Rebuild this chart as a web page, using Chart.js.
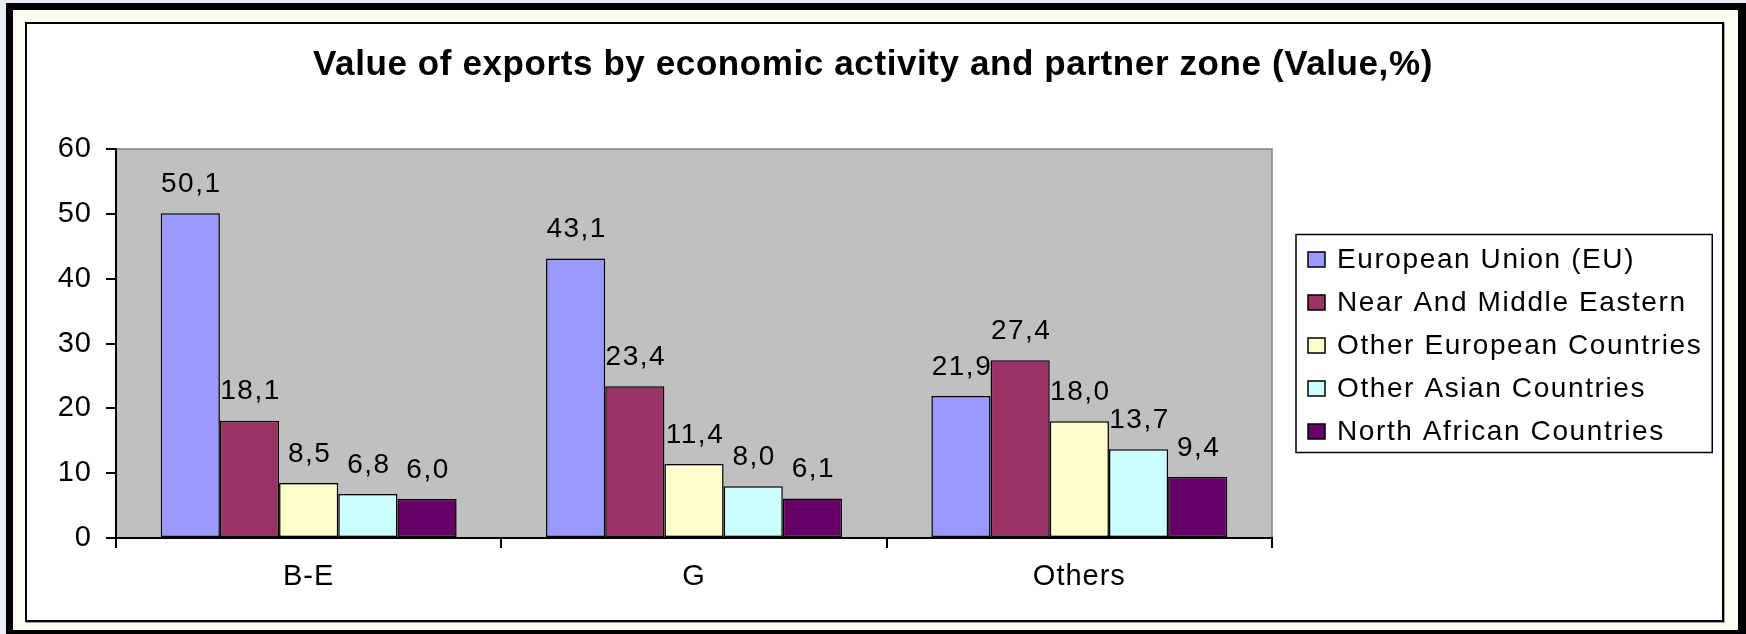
<!DOCTYPE html>
<html>
<head>
<meta charset="utf-8">
<title>Value of exports by economic activity and partner zone</title>
<script src="https://cdn.jsdelivr.net/npm/chart.js@4.4.1/dist/chart.umd.min.js"></script>
<style>
  html, body { margin: 0; padding: 0; }
  body { width: 1746px; height: 634px; background: #e9edf3; position: relative; overflow: hidden; }
  .outer {
    position: absolute; left: 6px; top: 3px; width: 1740px; height: 631px; box-sizing: border-box;
    background: #fffff3; border-style: solid; border-color: #000; border-width: 7px 8px 4px 7px;
  }
  .inner {
    position: absolute; left: 25px; top: 22px; width: 1699px; height: 600px; box-sizing: border-box;
    background: #fff; border: 2px solid #000; box-shadow: 1px 1px 0 #a0a0a0;
  }
  #myChart { position: absolute; left: 0; top: 0; width: 1746px; height: 634px; }
</style>
</head>
<body>
<div class="outer"></div>
<div class="inner"></div>
<canvas id="myChart" width="1746" height="634"></canvas>
<script>
const titleText = 'Value of exports by economic activity and partner zone (Value,%)'
const categories = ['B-E', 'G', 'Others']
const zoneNames = ['European Union (EU)', 'Near And Middle Eastern', 'Other European Countries', 'Other Asian Countries', 'North African Countries']
const euValues = [50.1, 43.1, 21.9]
const nearMiddleEastValues = [18.1, 23.4, 27.4]
const otherEuropeValues = [8.5, 11.4, 18.0]
const otherAsiaValues = [6.8, 8.0, 13.7]
const northAfricaValues = [6.0, 6.1, 9.4]
const yTicks = [0, 10, 20, 30, 40, 50, 60]
const zoneColors = ['#9999ff', '#993366', '#ffffcc', '#ccffff', '#660066']

const FONT = "'Liberation Sans', Arial, sans-serif"
const seriesValues = [euValues, nearMiddleEastValues, otherEuropeValues, otherAsiaValues, northAfricaValues]

// excel draws its text a bit wide, so spread the letters
const wideText = {
	id: 'wideText',
	beforeUpdate(chart) { chart.ctx.letterSpacing = '1px' },
	beforeLayout(chart) { chart.ctx.letterSpacing = '1px' },
	beforeDraw(chart) { chart.ctx.letterSpacing = '1px' }
}

// grey plot area + title
const plotFrame = {
	id: 'plotFrame',
	beforeDraw(chart) {
		const ctx = chart.ctx
		const a = chart.chartArea
		ctx.save()
		ctx.fillStyle = '#c0c0c0'
		ctx.fillRect(a.left, a.top, a.right - a.left, a.bottom - a.top)
		ctx.strokeStyle = '#808080'
		ctx.lineWidth = 1.5
		ctx.strokeRect(a.left, a.top, a.right - a.left, a.bottom - a.top)

		ctx.letterSpacing = '0.6px'
		ctx.font = 'bold 35px ' + FONT
		ctx.fillStyle = '#000'
		ctx.textAlign = 'center'
		ctx.textBaseline = 'middle'
		ctx.fillText(titleText, chart.width / 2, 65)
		ctx.restore()
	}
}

const valueLabels = {
	id: 'valueLabels',
	afterDatasetsDraw(chart) {
		const ctx = chart.ctx
		ctx.save()
		ctx.letterSpacing = '1.5px'
		ctx.font = '28px ' + FONT
		ctx.fillStyle = '#000'
		ctx.textAlign = 'center'
		ctx.textBaseline = 'middle'
		chart.data.datasets.forEach((ds, i) => {
			chart.getDatasetMeta(i).data.forEach((bar, j) => {
				const txt = ds.data[j].toFixed(1).replace('.', ',')
				ctx.fillText(txt, bar.x + 1, bar.y - 29)
			})
		})
		ctx.restore()
	}
}

// boxed legend to the right of the plot
const boxLegend = {
	id: 'boxLegend',
	afterDraw(chart) {
		const ctx = chart.ctx
		const a = chart.chartArea
		const sets = chart.data.datasets
		const rowH = 43
		ctx.save()
		ctx.letterSpacing = '1.6px'
		ctx.font = '28px ' + FONT
		let textW = 0
		sets.forEach(ds => { textW = Math.max(textW, ctx.measureText(ds.label).width) })
		const left = a.right + 24
		const w = 12 + 17 + 12 + textW + 10
		const h = rowH * sets.length + 3
		const top = (a.top + a.bottom) / 2 - h / 2
		ctx.fillStyle = '#fff'
		ctx.fillRect(left, top, w, h)
		ctx.strokeStyle = '#000'
		ctx.lineWidth = 1.5
		ctx.strokeRect(left, top, w, h)
		ctx.textAlign = 'left'
		ctx.textBaseline = 'middle'
		sets.forEach((ds, i) => {
			const cy = top + 25 + i * rowH
			ctx.fillStyle = ds.backgroundColor
			ctx.fillRect(left + 12, cy - 7.5, 17, 15)
			ctx.strokeRect(left + 12, cy - 7.5, 17, 15)
			ctx.fillStyle = '#000'
			ctx.fillText(ds.label, left + 41, cy + 1)
		})
		ctx.restore()
	}
}

const chartElement = document.querySelector('#myChart')
if (chartElement == null) {
	console.error('Chart not found.')
}
else {
	new Chart(chartElement, {
		type: 'bar',
		data: {
			labels: categories,
			datasets: zoneNames.map((name, i) => ({
				label: name,
				data: seriesValues[i],
				backgroundColor: zoneColors[i],
				borderColor: '#000',
				borderWidth: 1.5,
				borderSkipped: false,
				barPercentage: 1,
				categoryPercentage: 0.768
			}))
		},
		options: {
			responsive: false,
			animation: false,
			devicePixelRatio: 1,
			events: [],
			layout: { padding: { left: 30, right: 474, top: 149, bottom: 0 } },
			plugins: {
				legend: { display: false },
				title: { display: false },
				tooltip: { enabled: false }
			},
			scales: {
				x: {
					afterFit: s => { s.height = 96 },
					grid: { drawOnChartArea: false, offset: true, tickLength: 10, color: '#000', lineWidth: 2 },
					border: { display: true, color: '#000', width: 2 },
					ticks: { color: '#000', padding: 12, font: { family: FONT, size: 29 } }
				},
				y: {
					min: 0,
					max: 60,
					afterBuildTicks: s => { s.ticks = yTicks.map(v => ({ value: v })) },
					afterFit: s => { s.width = 86 },
					grid: { drawOnChartArea: false, tickLength: 10, color: '#000', lineWidth: 2 },
					border: { display: true, color: '#000', width: 2 },
					ticks: { color: '#000', padding: 14, font: { family: FONT, size: 29 } }
				}
			}
		},
		plugins: [wideText, plotFrame, valueLabels, boxLegend]
	})
}
</script>
</body>
</html>
